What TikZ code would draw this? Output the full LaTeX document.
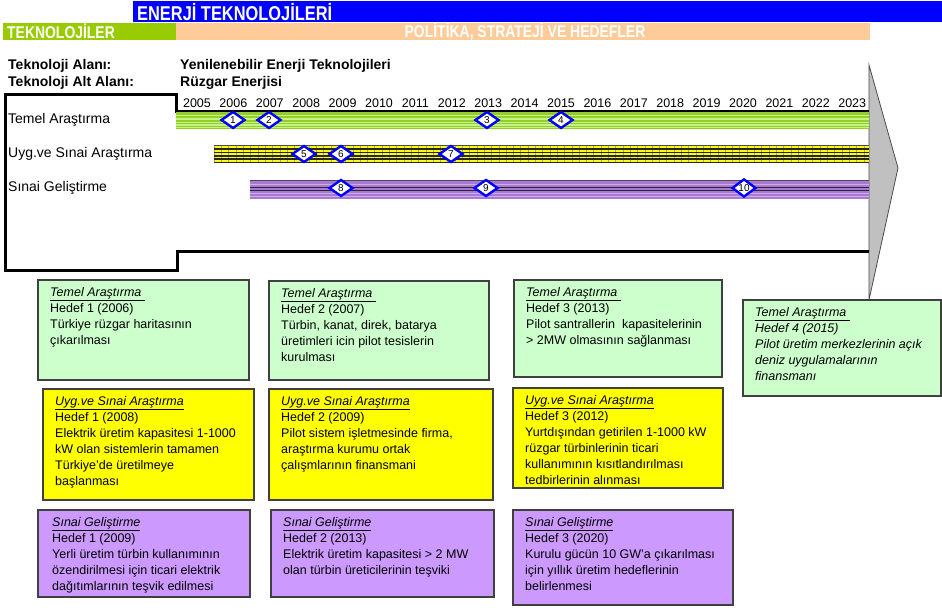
\documentclass[tikz,border=0pt]{standalone}
\usepackage{fontspec}
\setmainfont{Liberation Sans}
\newfontfamily\narrowfont[FakeStretch=0.82]{Liberation Sans}
\usetikzlibrary{shapes.geometric,calc}
\definecolor{headblue}{RGB}{0,0,255}
\definecolor{headgreen}{RGB}{153,204,0}
\definecolor{headpeach}{RGB}{255,204,153}
\definecolor{boxgreen}{RGB}{204,255,204}
\definecolor{boxyellow}{RGB}{255,255,0}
\definecolor{boxpurple}{RGB}{204,153,255}
\definecolor{bargreen}{RGB}{150,205,45}
\definecolor{barlight}{RGB}{195,245,130}
\definecolor{barpurple}{RGB}{170,120,215}
\definecolor{arrowgrey}{RGB}{192,192,192}

\tikzset{
  goalbox/.style={draw=black!75, line width=1.1pt},
  goaltext/.style={anchor=north west, align=left, inner sep=0pt, font=\fontsize{12.5}{16}\selectfont},
  milestone/.style={diamond, draw=blue, line width=2.4pt, fill=white, minimum width=24pt,
    minimum height=17pt, inner sep=0pt, font=\fontsize{10}{10}\selectfont},
  rowlabel/.style={anchor=west, inner sep=0pt, font=\fontsize{14}{14}\selectfont},
  infotext/.style={anchor=west, inner sep=0pt, font=\bfseries\fontsize{14}{14}\selectfont},
  headtext/.style={text=white, inner sep=0pt, font=\narrowfont\bfseries\fontsize{17}{17}\selectfont},
}

\begin{document}
\begin{tikzpicture}[x=1pt, y=-1pt]
    \useasboundingbox[fill=white] (0,0) rectangle (942,610);
    % header bars
    \fill[headblue] (133,1) rectangle (942,22);
    \fill[headgreen] (3,23) rectangle (176,40);
    \fill[headpeach] (176,23) rectangle (870,40);
    \node[headtext, anchor=west, font=\narrowfont\bfseries\fontsize{20}{20}\selectfont] (title) at (137,12) {ENERJİ TEKNOLOJİLERİ};
    \node[headtext, anchor=west] (tech) at (7,31.5) {TEKNOLOJİLER};
    \node[headtext] (policy) at (525,31.5) {POLİTİKA, STRATEJİ VE HEDEFLER};
    % area info
    \node[infotext] (area) at (8,66) {Teknoloji Alanı:};
    \node[infotext] (subarea) at (8,83) {Teknoloji Alt Alanı:};
    \node[infotext] (areaval) at (180,66) {Yenilenebilir Enerji Teknolojileri};
    \node[infotext] (subareaval) at (180,83) {Rüzgar Enerjisi};
    % big arrow and frame
    \draw[black!70, fill=arrowgrey, line width=0.8pt] (869,65) -- (898,168) -- (869,300) -- cycle;
    \draw[line width=3pt, line join=miter] (869,111) -- (176,111) -- (176,94) -- (5,94) -- (5,270)
        -- (177,270) -- (177,251) -- (869,251);
    % years
    \foreach \yr in {2005,...,2023}
        \node[font=\fontsize{12.5}{12.5}\selectfont, inner sep=0pt] (y\yr) at ({197+(\yr-2005)*36.4},103) {\yr};
    % bars
    \fill[bargreen] (176,112) rectangle (869,129);
    \foreach \yy in {115.5,119,122.5,125,127.5}
        \draw[barlight, line width=1.1pt] (176,\yy) -- (869,\yy);
    \draw[line width=2.5pt] (176,111) -- (869,111);
    \fill[boxyellow] (214,145) rectangle (869,163);
    \foreach \xx in {214,221.3,...,869}
        \draw[black!35, line width=0.4pt] (\xx,145) -- (\xx,163);
    \foreach \yy in {149,152.5,156,159,162.3}
        \draw[black!85, line width=1.3pt] (214,\yy) -- (869,\yy);
    \draw[black!70, line width=1.3pt] (214,145.5) -- (869,145.5);
    \fill[barpurple] (250,180) rectangle (869,199);
    \foreach \yy in {184,193.5,196.5}
        \draw[barpurple!60!white, line width=1pt] (250,\yy) -- (869,\yy);
    \foreach \yy in {187.5,190.5}
        \draw[black!85, line width=1.1pt] (250,\yy) -- (869,\yy);
    \draw[black!70, line width=1.3pt] (250,180.5) -- (869,180.5);
    % row labels
    \node[rowlabel] (r1) at (8,120) {Temel Araştırma};
    \node[rowlabel] (r2) at (8,154) {Uyg.ve Sınai Araştırma};
    \node[rowlabel] (r3) at (8,188) {Sınai Geliştirme};
    % milestones
    \node[milestone] (m1) at (233,120) {1};
    \node[milestone] (m2) at (269,120) {2};
    \node[milestone] (m3) at (487,120) {3};
    \node[milestone] (m4) at (561,120) {4};
    \node[milestone] (m5) at (304,154) {5};
    \node[milestone] (m6) at (341,154) {6};
    \node[milestone] (m7) at (451,154) {7};
    \node[milestone] (m8) at (341,188) {8};
    \node[milestone] (m9) at (486,188) {9};
    \node[milestone] (m10) at (744,188) {10};
    % goal boxes
    \draw[goalbox, fill=boxgreen] (38,280) rectangle (249,380);
    \node[goaltext] (t1) at (50,287) {\underline{\textit{Temel Araştırma\ }}\\Hedef 1 (2006)\\Türkiye rüzgar haritasının\\çıkarılması};
    \draw[goalbox, fill=boxgreen] (269,281) rectangle (489,380);
    \node[goaltext] (t2) at (281,288) {\underline{\textit{Temel Araştırma\ }}\\Hedef 2 (2007)\\Türbin, kanat, direk, batarya\\üretimleri icin pilot tesislerin\\kurulması};
    \draw[goalbox, fill=boxgreen] (514,280) rectangle (722,377);
    \node[goaltext] (t3) at (526,287) {\underline{\textit{Temel Araştırma\ }}\\Hedef 3 (2013)\\Pilot santrallerin\ \ kapasitelerinin\\> 2MW olmasının sağlanması};
    \draw[goalbox, fill=boxgreen] (743,300) rectangle (941,396);
    \node[goaltext, font=\itshape\fontsize{12.5}{16}\selectfont] (t4) at (755,307) {\underline{Temel Araştırma\ }\\Hedef 4 (2015)\\Pilot üretim merkezlerinin açık\\deniz uygulamalarının\\finansmanı};
    \draw[goalbox, fill=boxyellow] (43,389) rectangle (254,500);
    \node[goaltext] (u1) at (55,396) {\underline{\textit{Uyg.ve Sınai Araştırma}}\\Hedef 1 (2008)\\Elektrik üretim kapasitesi 1-1000\\kW olan sistemlerin tamamen\\Türkiye'de üretilmeye\\başlanması};
    \draw[goalbox, fill=boxyellow] (269,389) rectangle (493,500);
    \node[goaltext] (u2) at (281,396) {\underline{\textit{Uyg.ve Sınai Araştırma}}\\Hedef 2 (2009)\\Pilot sistem işletmesinde firma,\\araştırma kurumu ortak\\çalışmlarının finansmani};
    \draw[goalbox, fill=boxyellow] (513,388) rectangle (723,488);
    \node[goaltext] (u3) at (525,395) {\underline{\textit{Uyg.ve Sınai Araştırma}}\\Hedef 3 (2012)\\Yurtdışından getirilen 1-1000 kW\\rüzgar türbinlerinin ticari\\kullanımının kısıtlandırılması\\tedbirlerinin alınması};
    \draw[goalbox, fill=boxpurple] (38,510) rectangle (250,597);
    \node[goaltext] (s1) at (52,517) {\underline{\textit{Sınai Geliştirme}}\\Hedef 1 (2009)\\Yerli üretim türbin kullanımının\\özendirilmesi için ticari elektrik\\dağıtımlarının teşvik edilmesi};
    \draw[goalbox, fill=boxpurple] (271,510) rectangle (494,597);
    \node[goaltext] (s2) at (283,517) {\underline{\textit{Sınai Geliştirme}}\\Hedef 2 (2013)\\Elektrik üretim kapasitesi > 2 MW\\olan türbin üreticilerinin teşviki};
    \draw[goalbox, fill=boxpurple] (513,510) rectangle (733,605);
    \node[goaltext] (s3) at (525,517) {\underline{\textit{Sınai Geliştirme}}\\Hedef 3 (2020)\\Kurulu gücün 10 GW'a çıkarılması\\için yıllık üretim hedeflerinin\\belirlenmesi};
\end{tikzpicture}
\end{document}
